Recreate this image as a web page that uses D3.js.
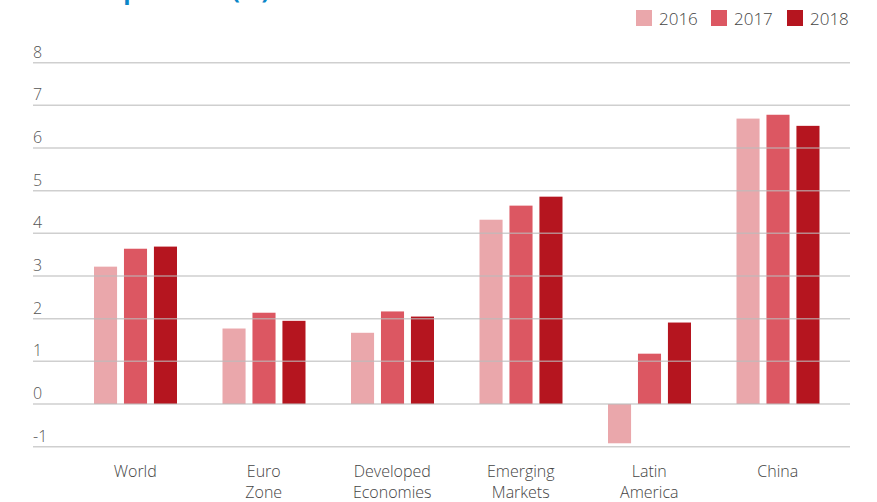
<!DOCTYPE html>
<meta charset="utf-8">
<style>
body { margin: 0; background: #fff; }
text { font-family: "Open Sans", "Noto Sans", sans-serif; font-weight: 300; }
.title { font-weight: bold; fill: #0a86c8; font-size: 24px; }
.grid line { stroke: #bbb; stroke-opacity: 0.7; stroke-width: 1.5px; }
.tick-label { fill: #555; font-size: 16px; }
.cat-label { fill: #444; font-size: 16px; }
.legend text { fill: #444; font-size: 17px; }
</style>
<svg width="877" height="502"></svg>
<script src="https://d3js.org/d3.v7.min.js"></script>
<script>

var categories = [["World"], ["Euro", "Zone"], ["Developed", "Economies"], ["Emerging", "Markets"], ["Latin", "America"], ["China"]];
var years = ["2016", "2017", "2018"];
var values2016 = [3.22, 1.77, 1.67, 4.32, -0.92, 6.69];
var values2017 = [3.64, 2.14, 2.17, 4.65, 1.18, 6.78];
var values2018 = [3.69, 1.95, 2.05, 4.86, 1.91, 6.52];
var yTicks = [-1, 0, 1, 2, 3, 4, 5, 6, 7, 8];
var colors = ["#eaa7ab", "#dc5762", "#b5151f"];

var series = [values2016, values2017, values2018];

var svg = d3.select("svg");

var y = d3.scaleLinear().domain([-1, 8]).range([446.7, 62.7]);
var x0 = d3.scaleBand().domain(d3.range(categories.length)).range([71, 842]).paddingInner(0).paddingOuter(0);
var x1 = d3.scaleBand().domain(d3.range(years.length)).range([23, 106]).paddingInner(0.23);

// title (cut off at the top of the picture)
svg.append("text")
	.attr("class", "title")
	.attr("x", 13)
	.attr("y", -1)
	.text("GDP Comparisons (%)");

// bars
var groups = svg.append("g").selectAll("g")
	.data(categories)
	.enter().append("g")
		.attr("transform", function(d, i) { return "translate(" + x0(i) + ",0)"; });

groups.selectAll("rect")
	.data(function(d, i) { return series.map(function(s, j) { return {s: j, v: s[i]}; }); })
	.enter().append("rect")
		.attr("x", function(d) { return x1(d.s); })
		.attr("width", x1.bandwidth())
		.attr("y", function(d) { return y(Math.max(0, d.v)); })
		.attr("height", function(d) { return Math.abs(y(d.v) - y(0)); })
		.attr("fill", function(d) { return colors[d.s]; });

// gridlines on top
var grid = svg.append("g").attr("class", "grid");
grid.selectAll("line")
	.data(yTicks)
	.enter().append("line")
		.attr("x1", 33)
		.attr("x2", 850)
		.attr("y1", function(d) { return y(d); })
		.attr("y2", function(d) { return y(d); });

svg.append("g").selectAll("text")
	.data(yTicks)
	.enter().append("text")
		.attr("class", "tick-label")
		.attr("x", 33)
		.attr("y", function(d) { return y(d) - 5; })
		.text(function(d) { return d; });

// category labels
var labels = svg.append("g").selectAll("text")
	.data(categories)
	.enter().append("text")
		.attr("class", "cat-label")
		.attr("text-anchor", "middle")
		.attr("x", function(d, i) { return x0(i) + x0.bandwidth() / 2; })
		.attr("y", 477);

labels.selectAll("tspan")
	.data(function(d) { return d; })
	.enter().append("tspan")
		.attr("x", function() { return this.parentNode.getAttribute("x"); })
		.attr("dy", function(d, i) { return i ? 21 : 0; })
		.text(function(d) { return d; });

// legend
var legend = svg.append("g").attr("class", "legend")
	.selectAll("g")
	.data(years)
	.enter().append("g")
		.attr("transform", function(d, i) { return "translate(" + [636, 711, 787][i] + ",10)"; });

legend.append("rect")
	.attr("width", 16)
	.attr("height", 16)
	.attr("fill", function(d, i) { return colors[i]; });

legend.append("text")
	.attr("x", 23)
	.attr("y", 15)
	.text(function(d) { return d; });

</script>
